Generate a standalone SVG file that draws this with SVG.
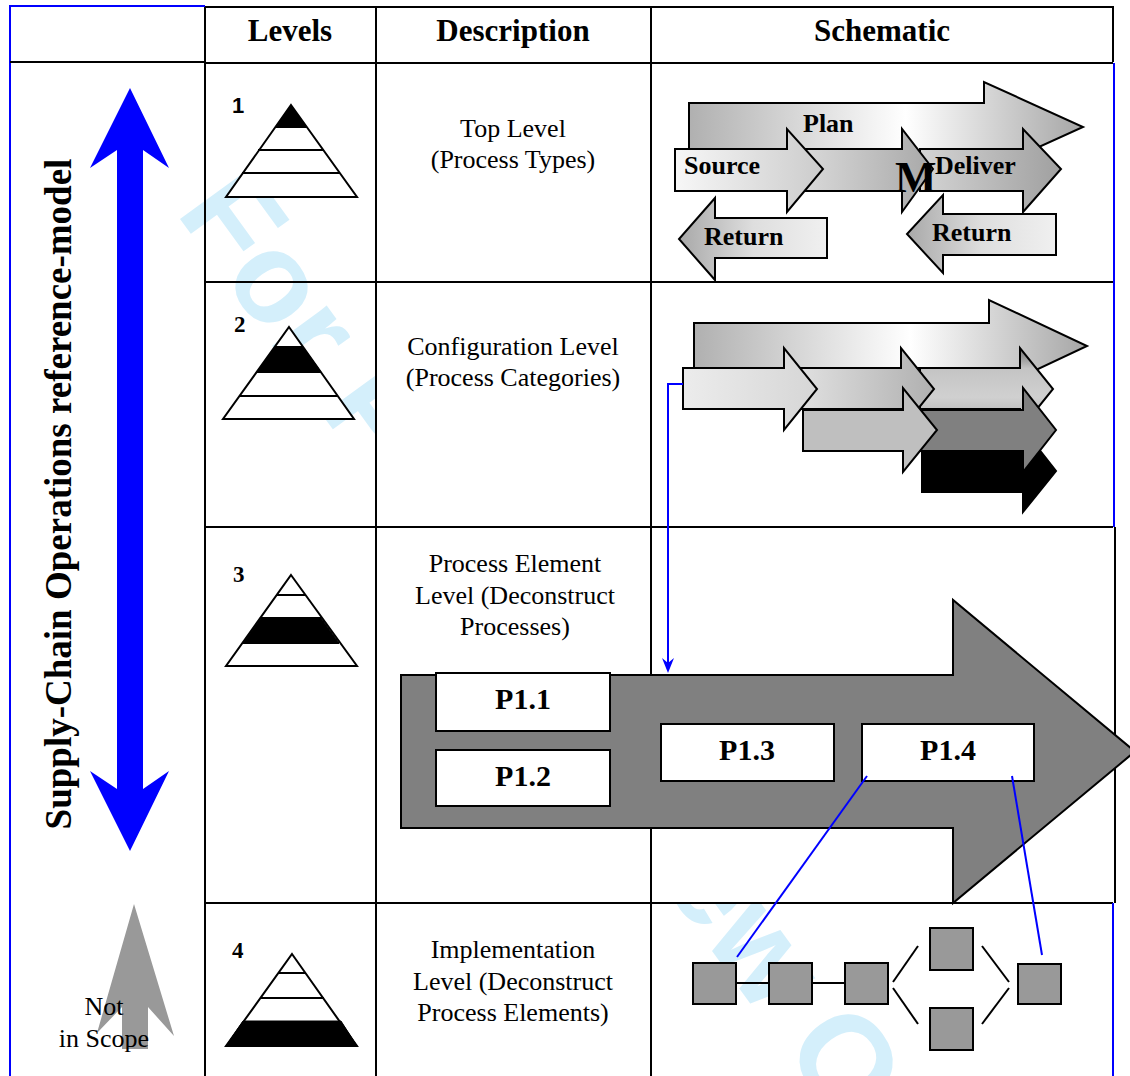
<svg xmlns="http://www.w3.org/2000/svg" width="1130" height="1076" viewBox="0 0 1130 1076">
<defs>
<style>
.grid{stroke:#000;stroke-width:2;fill:none}
.blue{stroke:#0000ff;stroke-width:2;fill:none}
.hdr{font-family:"Liberation Serif",serif;font-weight:bold;font-size:31px;text-anchor:middle;fill:#000}
.desc{font-family:"Liberation Serif",serif;font-size:26px;text-anchor:middle;fill:#000}
.lab{font-family:"Liberation Serif",serif;font-weight:bold;font-size:26px;fill:#000}
.big{font-family:"Liberation Serif",serif;font-weight:bold;font-size:44px;fill:#000}
.pl{font-family:"Liberation Serif",serif;font-weight:bold;font-size:30px;text-anchor:middle;fill:#000}
.num{font-family:"Liberation Serif",serif;font-weight:bold;font-size:23px;fill:#000}
.arr{stroke:#000;stroke-width:2;stroke-linejoin:miter}
.pyr{fill:#fff;stroke:#000;stroke-width:2}
.pbox{fill:#fff;stroke:#000;stroke-width:2}
.sq{fill:#999;stroke:#000;stroke-width:2}
.ln{stroke:#000;stroke-width:2}
</style>
<linearGradient id="gPlan" x1="0" y1="0" x2="1" y2="0">
<stop offset="0" stop-color="#b0b0b0"/><stop offset="0.55" stop-color="#ffffff"/><stop offset="1" stop-color="#a6a6a6"/>
</linearGradient>
<linearGradient id="gSource" x1="0" y1="0" x2="1" y2="0">
<stop offset="0" stop-color="#f7f7f7"/><stop offset="1" stop-color="#cccccc"/>
</linearGradient>
<linearGradient id="gMake" x1="0" y1="0" x2="1" y2="0">
<stop offset="0" stop-color="#e2e2e2"/><stop offset="1" stop-color="#a8a8a8"/>
</linearGradient>
<linearGradient id="gDeliver" x1="0" y1="0" x2="1" y2="0">
<stop offset="0" stop-color="#d4d4d4"/><stop offset="1" stop-color="#a0a0a0"/>
</linearGradient>
<linearGradient id="gReturn" x1="0" y1="0" x2="1" y2="0">
<stop offset="0" stop-color="#a8a8a8"/><stop offset="0.5" stop-color="#dedede"/><stop offset="1" stop-color="#f0f0f0"/>
</linearGradient>
<linearGradient id="gA1" x1="0" y1="0" x2="1" y2="0">
<stop offset="0" stop-color="#ececec"/><stop offset="1" stop-color="#d6d6d6"/>
</linearGradient>
<linearGradient id="gA2" x1="0" y1="0" x2="1" y2="0">
<stop offset="0" stop-color="#e0e0e0"/><stop offset="1" stop-color="#b0b0b0"/>
</linearGradient>
<linearGradient id="gA3" x1="0" y1="0" x2="0" y2="1">
<stop offset="0" stop-color="#707070"/><stop offset="0.25" stop-color="#c4c4c4"/><stop offset="0.6" stop-color="#d0d0d0"/><stop offset="1" stop-color="#a8a8a8"/>
</linearGradient>
</defs>

<rect width="1130" height="1076" fill="#fff"/>

<!-- watermark -->
<text x="175" y="212" transform="rotate(54 175 212)" font-family="'Liberation Sans',sans-serif" font-weight="bold" font-size="128" fill="#d4effb">For Peer Review Only</text>

<!-- cell fills that hide the watermark -->
<rect x="376" y="63" width="275" height="1013" fill="#fff"/>
<rect x="651" y="63" width="464" height="840" fill="#fff"/>

<!-- grid -->
<g id="grid">
<path class="blue" d="M10,1076 V6 H205"/>
<line class="grid" x1="10" y1="62" x2="205" y2="62"/>
<path class="grid" d="M205,7 H1113 V62 M205,7 V1076 M376,7 V1076 M651,7 V1076 M205,63 H1113 M205,282 H1113 M205,527 H1113 M205,903 H1113 M1115,527 V903"/>
<line class="blue" x1="1114" y1="63" x2="1114" y2="527"/>
<line class="blue" x1="1113" y1="903" x2="1113" y2="1076"/>
</g>

<!-- headers -->
<g id="headers">
<text class="hdr" x="290" y="41">Levels</text>
<text class="hdr" x="513" y="41">Description</text>
<text class="hdr" x="882" y="41">Schematic</text>
</g>

<!-- left column -->
<g id="scor-arrow">
<polygon fill="#0000ff" points="130,88 169,168 143,150 143,789 169,771 130,851 90,771 117,789 117,150 90,168"/>
<text x="71" y="494" transform="rotate(-90 71 494)" font-family="'Liberation Serif',serif" font-weight="bold" font-size="37" text-anchor="middle">Supply-Chain Operations reference-model</text>
</g>
<g id="not-in-scope">
<polygon fill="#999" points="134,904 174,1036 148,1007 148,1049 122,1049 122,1007 97,1033"/>
<text class="desc" x="104" y="1015">Not</text>
<text class="desc" x="104" y="1047">in Scope</text>
</g>

<!-- level icons -->
<g id="level1">
<text x="232" y="113" font-family="'Liberation Sans',sans-serif" font-weight="bold" font-size="22">1</text>
<polygon class="pyr" points="291,105 357,197 226,197"/>
<polygon fill="#000" points="291,105 307,127 275,127"/>
<line class="ln" x1="275" y1="127" x2="307" y2="127"/>
<line class="ln" x1="258" y1="150" x2="324" y2="150"/>
<line class="ln" x1="242" y1="173" x2="340" y2="173"/>
</g>
<g id="level2">
<text class="num" x="234" y="332">2</text>
<polygon class="pyr" points="289,327 354,419 223,419"/>
<polygon fill="#000" stroke="#000" stroke-width="1" points="275,347 303,347 321,372 257,372"/>
<line class="ln" x1="275" y1="347" x2="303" y2="347"/>
<line class="ln" x1="257" y1="372" x2="321" y2="372"/>
<line class="ln" x1="240" y1="396" x2="338" y2="396"/>
</g>
<g id="level3">
<text class="num" x="233" y="582">3</text>
<polygon class="pyr" points="291,575 357,666 226,666"/>
<line class="ln" x1="277" y1="595" x2="305" y2="595"/>
<polygon fill="#000" stroke="#000" stroke-width="1" points="261,618 321,618 339,643 243,643"/>
<line class="ln" x1="261" y1="618" x2="321" y2="618"/>
<line class="ln" x1="243" y1="643" x2="339" y2="643"/>
</g>
<g id="level4">
<text class="num" x="232" y="958">4</text>
<polygon class="pyr" points="292,954 357,1046 226,1046"/>
<line class="ln" x1="278" y1="973" x2="306" y2="973"/>
<line class="ln" x1="260" y1="998" x2="324" y2="998"/>
<polygon fill="#000" stroke="#000" stroke-width="1" points="243,1021 341,1021 357,1046 226,1046"/>
</g>

<!-- descriptions -->
<g id="desc1">
<text class="desc" x="513" y="137">Top Level</text>
<text class="desc" x="513" y="168">(Process Types)</text>
</g>
<g id="desc2">
<text class="desc" x="513" y="355">Configuration Level</text>
<text class="desc" x="513" y="386">(Process Categories)</text>
</g>
<g id="desc3">
<text class="desc" x="515" y="572">Process Element</text>
<text class="desc" x="515" y="604">Level (Deconstruct</text>
<text class="desc" x="515" y="635">Processes)</text>
</g>
<g id="desc4">
<text class="desc" x="513" y="958">Implementation</text>
<text class="desc" x="513" y="990">Level (Deconstruct</text>
<text class="desc" x="513" y="1021">Process Elements)</text>
</g>

<!-- schematic level 1 -->
<g id="schematic1">
<polygon class="arr" fill="url(#gPlan)" points="689,103 984,103 984,82 1083,127 984,172 984,150 689,150"/>
<polygon class="arr" fill="url(#gDeliver)" points="920,149 1023,149 1023,129 1061,169 1023,212 1023,191 920,191"/>
<polygon class="arr" fill="url(#gMake)" points="780,149 902,149 902,129 933,169 902,212 902,191 780,191"/>
<polygon class="arr" fill="url(#gSource)" points="675,149 787,149 787,129 823,169 787,212 787,191 675,191"/>
<polygon class="arr" fill="url(#gReturn)" points="827,218 715,218 715,198 679,239 715,280 715,258 827,258"/>
<polygon class="arr" fill="url(#gReturn)" points="1056,214 943,214 943,195 907,234 943,273 943,255 1056,255"/>
<text class="lab" x="803" y="132">Plan</text>
<text class="lab" x="684" y="174">Source</text>
<text class="lab" x="935" y="174">Deliver</text>
<text class="big" x="895" y="192">M</text>
<text class="lab" x="704" y="245">Return</text>
<text class="lab" x="932" y="241">Return</text>
</g>

<!-- schematic level 2 -->
<g id="schematic2">
<polygon class="arr" fill="url(#gPlan)" points="694,323 989,323 989,300 1087,346 989,392 989,368 694,368"/>
<polygon class="arr" fill="url(#gA3)" points="920,368 1020,368 1020,348 1053,389 1020,430 1020,409 920,409"/>
<polygon class="arr" fill="#000" points="922,450 1023,450 1023,429 1056,471 1023,512 1023,492 922,492"/>
<polygon class="arr" fill="#808080" points="920,410 1023,410 1023,388 1056,430 1023,472 1023,451 920,451"/>
<polygon class="arr" fill="url(#gA2)" points="800,368 901,368 901,348 934,389 901,430 901,409 800,409"/>
<polygon class="arr" fill="#bfbfbf" points="803,410 903,410 903,388 937,430 903,472 903,451 803,451"/>
<polygon class="arr" fill="url(#gA1)" points="683,368 784,368 784,348 817,389 784,430 784,409 683,409"/>
</g>

<!-- schematic level 3 -->
<g id="schematic3">
<polygon class="arr" fill="#808080" points="401,675 953,675 953,600 1135,751.5 953,903 953,828 401,828"/>
</g>
<g id="P1.1"><rect class="pbox" x="436" y="673" width="174" height="58"/><text class="pl" x="523" y="709">P1.1</text></g>
<g id="P1.2"><rect class="pbox" x="436" y="750" width="174" height="56"/><text class="pl" x="523" y="786">P1.2</text></g>
<g id="P1.3"><rect class="pbox" x="661" y="724" width="173" height="57"/><text class="pl" x="747" y="760">P1.3</text></g>
<g id="P1.4"><rect class="pbox" x="862" y="724" width="172" height="57"/><text class="pl" x="948" y="760">P1.4</text></g>

<!-- schematic level 4 -->
<g id="schematic4">
<rect class="sq" x="693" y="963" width="43" height="41"/>
<rect class="sq" x="769" y="963" width="43" height="41"/>
<rect class="sq" x="845" y="963" width="43" height="41"/>
<rect class="sq" x="930" y="928" width="43" height="42"/>
<rect class="sq" x="930" y="1008" width="43" height="42"/>
<rect class="sq" x="1018" y="964" width="43" height="40"/>
</g>

<!-- connectors -->
<g id="connectors">
<line class="ln" x1="736" y1="983" x2="769" y2="983"/>
<line class="ln" x1="812" y1="983" x2="845" y2="983"/>
<line class="ln" x1="893" y1="982" x2="918" y2="946"/>
<line class="ln" x1="893" y1="988" x2="918" y2="1024"/>
<line class="ln" x1="982" y1="946" x2="1009" y2="982"/>
<line class="ln" x1="982" y1="1024" x2="1009" y2="988"/>
<path class="blue" d="M683,384 H668 V666"/>
<polygon fill="#0000ff" points="668,673 662,658 668,663 674,658"/>
<line class="blue" x1="867" y1="776" x2="737" y2="957"/>
<line class="blue" x1="1012" y1="776" x2="1042" y2="955"/>
</g>
</svg>
